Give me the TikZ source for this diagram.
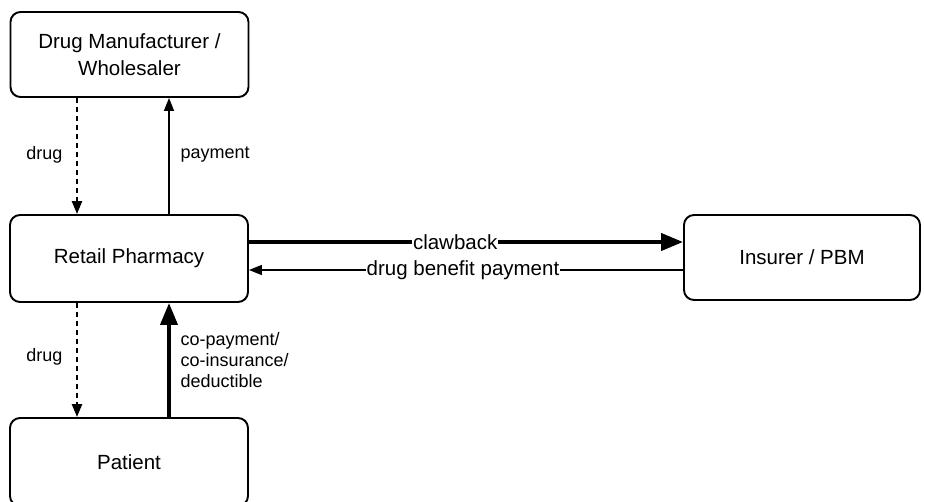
\documentclass[tikz,border=0pt]{standalone}
\usepackage{fontspec}
\setmainfont{Liberation Sans}
\usetikzlibrary{arrows.meta}
\begin{document}
\begin{tikzpicture}[x=1pt,y=-1pt,
  box/.style={draw, line width=1.9pt, rounded corners=10pt, align=center, font=\fontsize{20.5}{27}\selectfont, inner sep=0pt},
  thinarrow/.style={line width=1.6pt, -{Triangle[length=13pt,width=10pt]}},
  thickarrow/.style={line width=4pt, -{Triangle[length=22pt,width=17pt]}},
  dotarrow/.style={line width=2.4pt, dash pattern=on 5pt off 4pt, -{Triangle[length=13pt,width=10pt]}},
  vlabel/.style={font=\fontsize{18}{21}\selectfont, align=left},
  hlabel/.style={font=\fontsize{20.5}{24}\selectfont, fill=white, inner sep=1pt}]
\useasboundingbox (0,0) rectangle (925,502);
\node[box, minimum width=238pt, minimum height=85pt] (mfr) at (129.5,54.5) {Drug Manufacturer /\\Wholesaler};
\node[box, minimum width=238pt, minimum height=87pt] (rx) at (129,258.5) {Retail Pharmacy};
\node[box, minimum width=238pt, minimum height=88pt] (pat) at (129,462) {Patient};
\node[box, minimum width=236pt, minimum height=85pt] (ins) at (802,257.5) {Insurer / PBM};
% drug dotted arrows
\draw[dotarrow] (mfr.south -| 77,0) -- (rx.north -| 77,0);
\draw[dotarrow] (rx.south -| 77,0) -- (pat.north -| 77,0);
\node[vlabel, anchor=east] (l1) at (66,155) {drug};
\node[vlabel, anchor=east] (l2) at (66,357) {drug};
% payment
\draw[thinarrow] (rx.north -| 169,0) -- (mfr.south -| 169,0);
\node[vlabel, anchor=west] (l3) at (177,155) {payment};
\draw[thickarrow] (pat.north -| 169,0) -- (rx.south -| 169,0);
\node[vlabel, anchor=west] (l4) at (177,360) {co-payment/\\co-insurance/\\deductible};
% horizontal
\draw[thickarrow] (rx.east |- 0,242) -- node[hlabel, pos=0.475] (l5) {clawback} (ins.west |- 0,242);
\draw[thinarrow] (ins.west |- 0,270) -- node[hlabel, pos=0.507] (l6) {drug benefit payment} (rx.east |- 0,270);
\end{tikzpicture}
\end{document}
